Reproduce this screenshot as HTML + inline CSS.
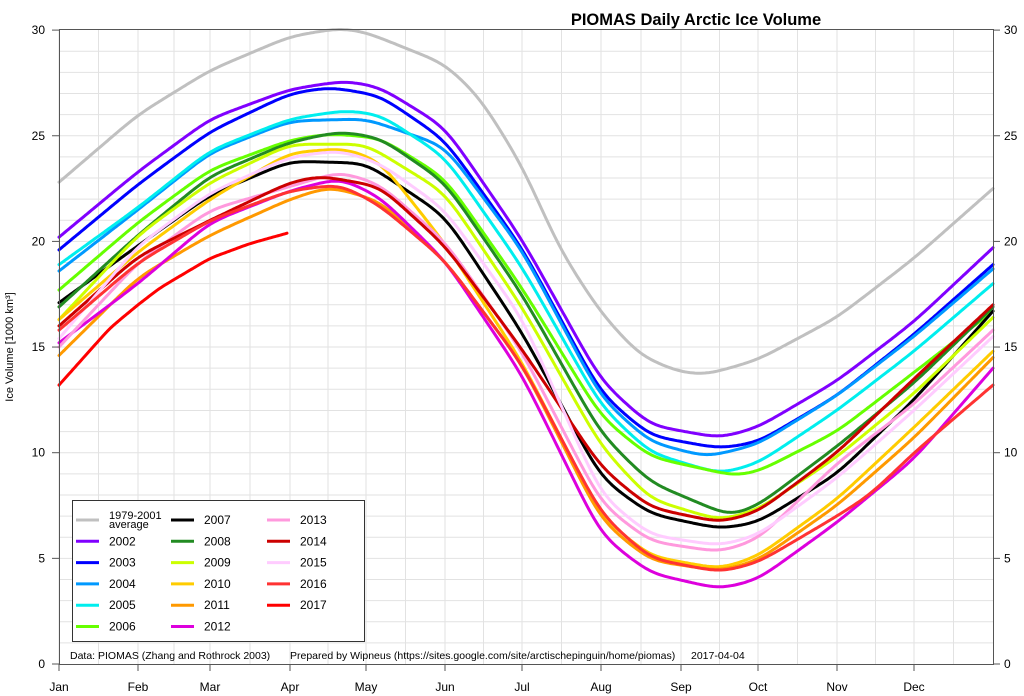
<!DOCTYPE html>
<html><head><meta charset="utf-8"><style>
body{margin:0;background:#fff;}
svg{display:block;font-family:"Liberation Sans",sans-serif;}
</style></head><body>
<svg id="s" width="1024" height="696" viewBox="0 0 1024 696" xmlns="http://www.w3.org/2000/svg">
<rect width="1024" height="696" fill="#fff"/>
<g id="grid" stroke="#e2e2e2" stroke-width="1"></g>
<g id="series" fill="none" stroke-width="3" stroke-linejoin="round" stroke-linecap="round"></g>
<rect x="59.5" y="29.5" width="934" height="635" fill="none" stroke="#555" stroke-width="1"/>
<g id="axes" stroke="#555" fill="#000" font-size="12"></g>
<text x="696" y="25" font-size="16.5" font-weight="bold" text-anchor="middle">PIOMAS Daily Arctic Ice Volume</text>
<text transform="translate(13,347) rotate(-90)" font-size="11" text-anchor="middle">Ice Volume [1000 km³]</text>
<rect x="72.5" y="500.5" width="292" height="141" fill="#fff" stroke="#333"/>
<g id="legend" font-size="12"></g>
<g font-size="10.5">
<text x="70" y="659">Data: PIOMAS (Zhang and Rothrock 2003)</text>
<text x="290" y="659">Prepared by Wipneus (https://sites.google.com/site/arctischepinguin/home/piomas)</text>
<text x="691" y="659">2017-04-04</text>
</g>
</svg>
<script>
var NS="http://www.w3.org/2000/svg";
function el(p,t,a,txt){var e=document.createElementNS(NS,t);for(var k in a)e.setAttribute(k,a[k]);if(txt!==undefined)e.textContent=String(txt);p.appendChild(e);return e;}
function Y(v){return 664-21.13*v;}
var g=document.getElementById('grid');
for(var v=1;v<30;v++)el(g,'line',{x1:59,x2:993,y1:Y(v),y2:Y(v)});
var months=[59,138,210,290,366,445,522,601,681,758,837,914,993];
for(var i=0;i<12;i++){el(g,'line',{x1:months[i],x2:months[i],y1:30,y2:664});var m=(months[i]+months[i+1])/2;el(g,'line',{x1:m,x2:m,y1:30,y2:664});}
var ax=document.getElementById('axes');
var names=["Jan","Feb","Mar","Apr","May","Jun","Jul","Aug","Sep","Oct","Nov","Dec"];
for(var i=0;i<12;i++){el(ax,'line',{x1:months[i],x2:months[i],y1:664,y2:671});el(ax,'text',{x:months[i],y:691,'text-anchor':'middle',stroke:'none'},names[i]);}
for(var v=0;v<=30;v+=5){el(ax,'line',{x1:52,x2:59,y1:Y(v),y2:Y(v)});el(ax,'line',{x1:993,x2:1000,y1:Y(v),y2:Y(v)});
el(ax,'text',{x:45,y:Y(v)+4,'text-anchor':'end',stroke:'none'},v);el(ax,'text',{x:1004,y:Y(v)+4,stroke:'none'},v);}
function lin(pts,x){var n=pts.length;
 if(x<=pts[0][0]){var s=(pts[1][1]-pts[0][1])/(pts[1][0]-pts[0][0]);return pts[0][1]+s*(x-pts[0][0]);}
 if(x>=pts[n-1][0]){var s=(pts[n-1][1]-pts[n-2][1])/(pts[n-1][0]-pts[n-2][0]);return pts[n-1][1]+s*(x-pts[n-1][0]);}
 for(var i=0;i<n-1;i++)if(x<=pts[i+1][0]){var t=(x-pts[i][0])/(pts[i+1][0]-pts[i][0]);return pts[i][1]+t*(pts[i+1][1]-pts[i][1]);}}
function path(pts,sig){var x0=pts[0][0],x1=pts[pts.length-1][0],W=Math.ceil(sig*2.5),d="";
 for(var x=x0;x<=x1;x+=2){var sw=0,sv=0;for(var k=-W;k<=W;k++){var w=Math.exp(-k*k/(2*sig*sig));sw+=w;sv+=w*lin(pts,x+k);}
 var y=Y(sv/sw);d+=(x==x0?"M":" L")+x+","+y.toFixed(1);}return d;}
var S=[
["1979-2001 average","#c0c0c0",[[59,22.8],[138,26],[210,28.1],[290,29.7],[340,30.1],[366,29.9],[445,28.4],[480,26.8],[522,23.6],[560,19.6],[601,16.6],[640,14.6],[680,13.8],[707,13.7],[758,14.4],[837,16.4],[914,19.2],[993,22.5]]],
["2002","#8000ff",[[59,20.2],[138,23.3],[210,25.8],[290,27.2],[345,27.6],[380,27.3],[445,25.4],[522,20.1],[601,13.4],[650,11.3],[720,10.7],[758,11.2],[837,13.4],[914,16.2],[993,19.7]]],
["2003","#0000ff",[[59,19.6],[138,22.7],[210,25.2],[290,27],[330,27.3],[380,26.9],[445,24.8],[522,19.7],[601,12.8],[650,10.8],[720,10.2],[758,10.5],[837,12.7],[914,15.6],[993,18.9]]],
["2004","#0099ff",[[59,18.6],[138,21.5],[210,24.2],[290,25.7],[366,25.8],[445,24.5],[522,19.6],[601,12.6],[650,10.5],[707,9.8],[758,10.4],[837,12.7],[914,15.5],[993,18.7]]],
["2005","#00eeee",[[59,18.9],[138,21.6],[210,24.3],[290,25.8],[345,26.2],[380,26.0],[445,24.0],[522,18.8],[601,12.2],[650,10.0],[720,9.0],[758,9.5],[837,12],[914,14.8],[993,18]]],
["2006","#66ff00",[[59,17.7],[138,20.9],[210,23.4],[290,24.8],[330,25.1],[380,24.9],[445,23.0],[522,17.8],[601,11.7],[650,9.8],[735,8.9],[758,9.1],[837,11],[914,13.8],[993,16.7]]],
["2007","#000000",[[59,17.1],[138,19.8],[210,22.2],[290,23.8],[366,23.7],[445,21.2],[522,15.7],[601,8.8],[650,7.1],[720,6.4],[758,6.7],[837,9],[914,12.5],[993,16.7]]],
["2008","#228b22",[[59,16.9],[138,20.3],[210,23.1],[290,24.7],[340,25.2],[380,24.9],[445,22.8],[522,17.5],[601,10.9],[650,8.6],[730,7.0],[758,7.5],[837,10.3],[914,13.3],[993,16.9]]],
["2009","#ccff00",[[59,16.3],[138,20.3],[210,22.8],[290,24.6],[366,24.6],[445,22.3],[522,16.9],[601,10.3],[650,7.8],[720,6.8],[758,7.3],[837,9.8],[914,12.8],[993,16.4]]],
["2010","#ffcc00",[[59,16.3],[138,19.5],[210,22],[290,24.2],[345,24.4],[380,23.8],[445,19.9],[522,14.3],[601,7.0],[650,5.1],[720,4.5],[758,5.1],[837,7.8],[914,11.2],[993,14.8]]],
["2011","#ff9900",[[59,14.6],[138,18.3],[210,20.3],[290,22],[330,22.6],[380,21.9],[445,19.1],[522,14.2],[601,6.8],[650,4.9],[720,4.4],[758,4.9],[837,7.5],[914,10.7],[993,14.5]]],
["2012","#dd00dd",[[59,15.2],[138,18],[210,20.9],[290,22.4],[340,23],[380,22.1],[445,19.1],[522,13.7],[601,6.1],[650,4.3],[720,3.55],[758,4.0],[837,6.7],[914,9.7],[993,14]]],
["2013","#ff99dd",[[59,15],[138,19],[210,21.5],[290,22.6],[340,23.3],[380,22.7],[445,20.0],[522,14.8],[601,7.6],[650,5.8],[720,5.3],[758,5.9],[837,9.5],[914,12.3],[993,15.8]]],
["2014","#cc0000",[[59,16],[138,19.3],[210,21],[290,22.8],[320,23.1],[380,22.6],[445,19.8],[522,14.9],[601,9.3],[650,7.4],[720,6.7],[758,7.2],[837,10],[914,13.5],[993,17]]],
["2015","#ffccff",[[59,15.4],[138,19.8],[210,22.3],[290,24],[340,24.3],[380,23.7],[445,21.5],[522,16.4],[601,8.0],[650,6.1],[720,5.6],[758,6.1],[837,8.8],[914,12],[993,15.5]]],
["2016","#ff3333",[[59,15.8],[138,19],[210,21],[290,22.4],[340,22.7],[380,21.7],[445,19.1],[522,14.2],[601,7.1],[650,5.0],[720,4.35],[758,4.8],[837,7],[870,8],[914,10],[993,13.2]]],
["2017","#ff0000",[[59,13.2],[110,15.9],[138,17],[160,17.8],[210,19.2],[250,19.9],[288,20.4]]]
];
var sg=document.getElementById('series'),lg=document.getElementById('legend');
S.forEach(function(s,i){el(sg,'path',{d:path(s[2],i==16?5:12),stroke:s[1]});
var col=Math.floor(i/6),row=i%6;var lx=[76,171,267][col],tx=[109,204,300][col],y=520+row*21.3;
el(lg,'line',{x1:lx,x2:lx+23,y1:y,y2:y,stroke:s[1],'stroke-width':3});
if(i==0){el(lg,'text',{x:tx,y:519,'font-size':11},"1979-2001");el(lg,'text',{x:tx,y:528,'font-size':11},"average");}
else el(lg,'text',{x:tx,y:y+4},s[0]);});
</script>
</body></html>
